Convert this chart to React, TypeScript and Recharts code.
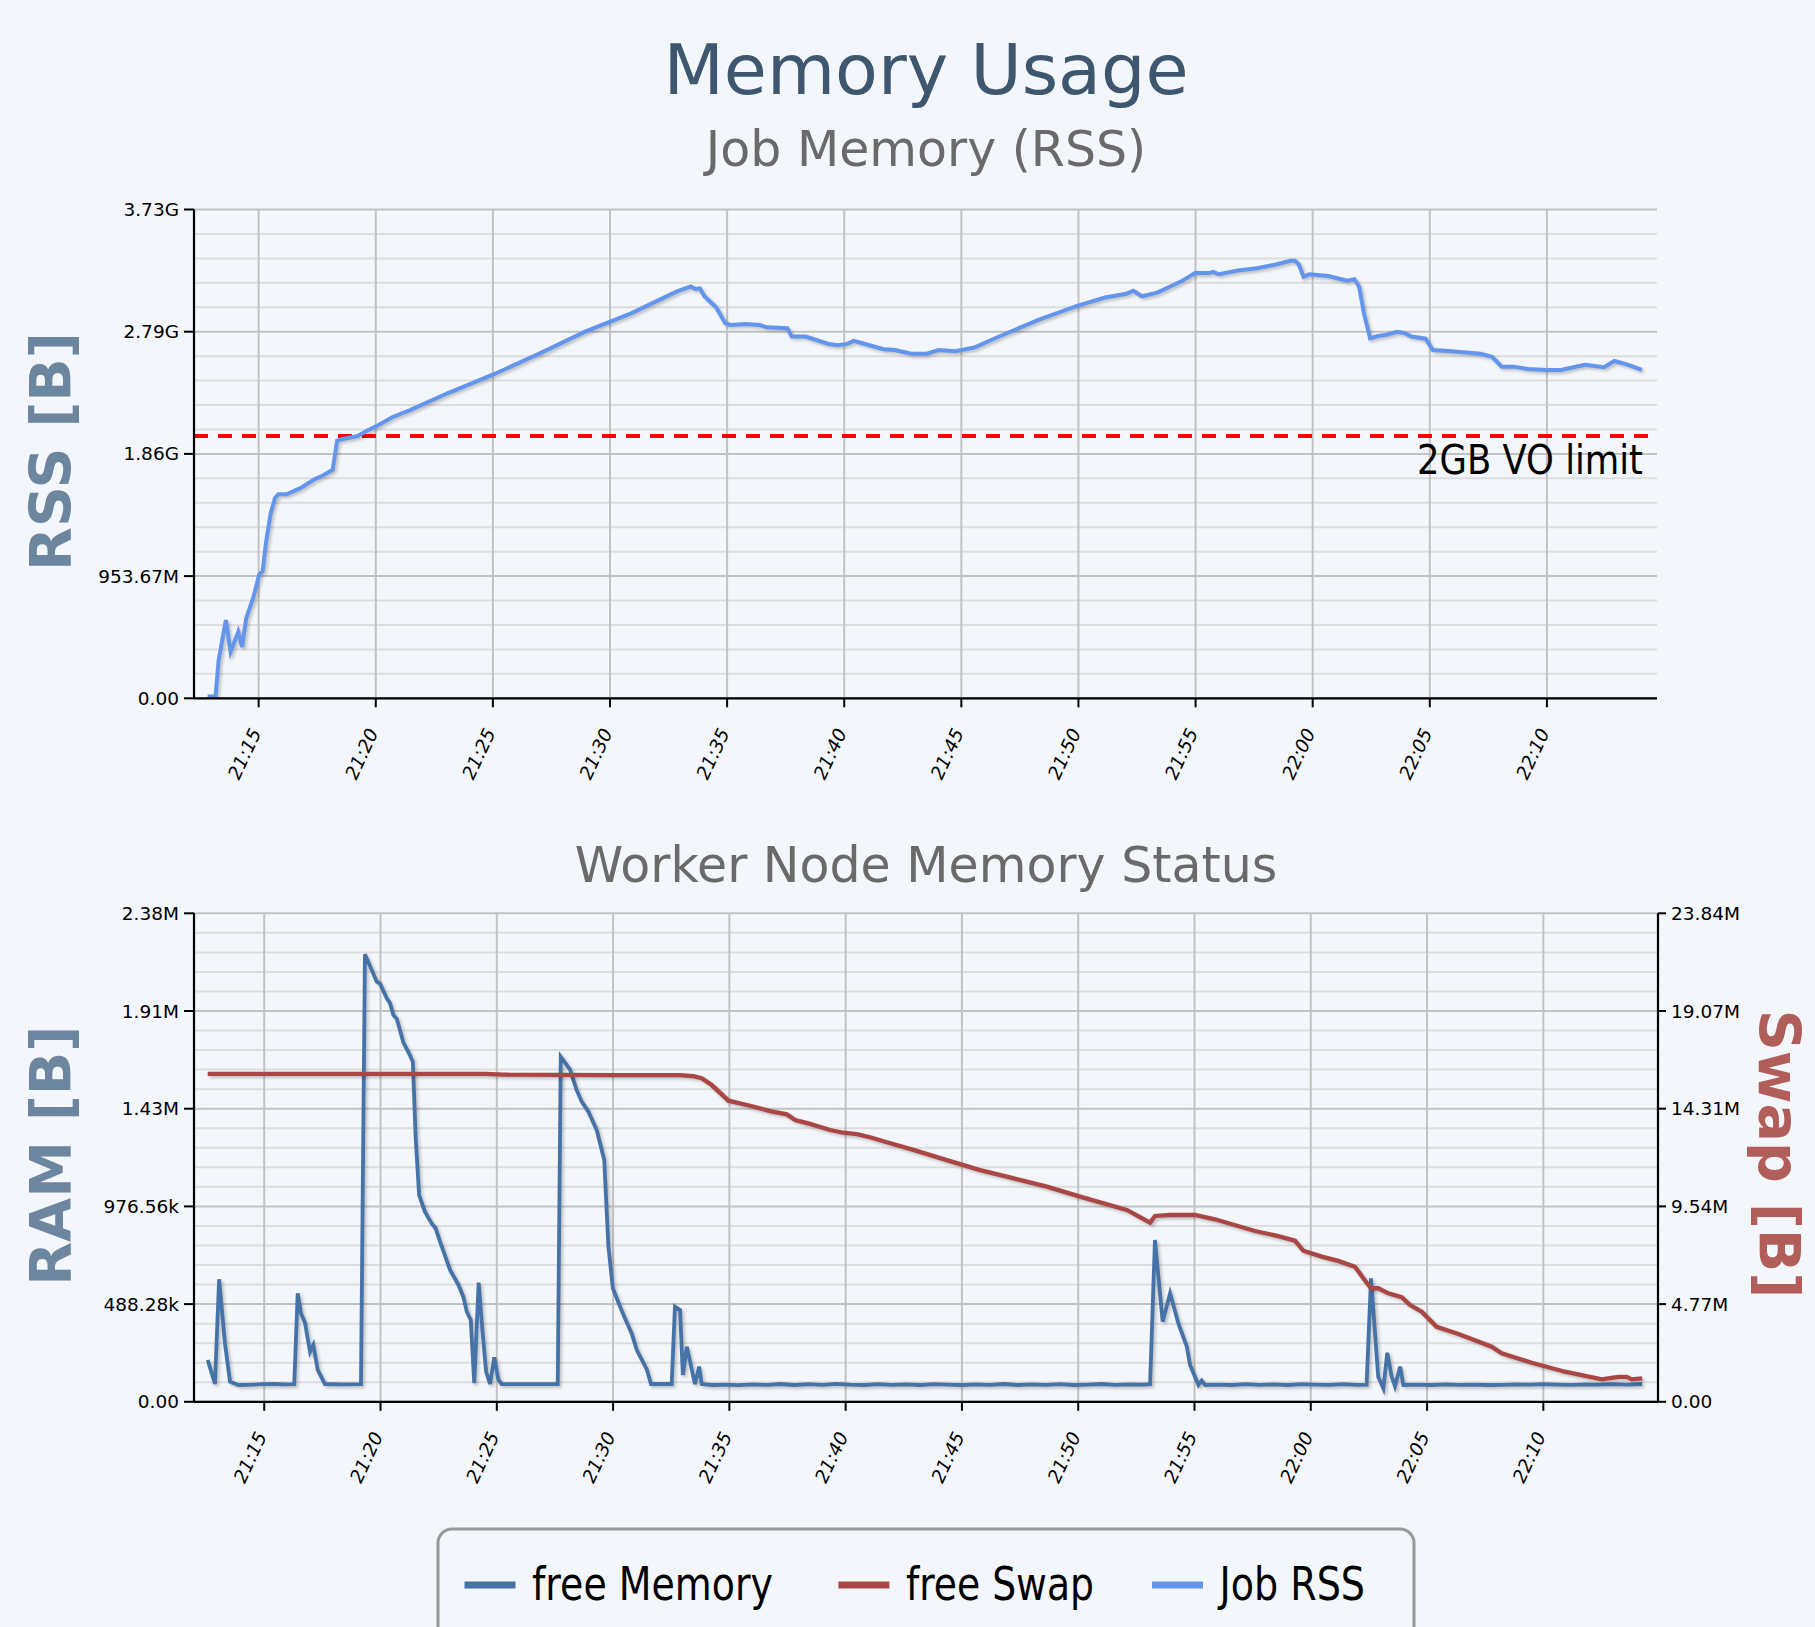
import React from "react";
import {
  LineChart,
  Line,
  XAxis,
  YAxis,
  CartesianGrid,
  ReferenceLine,
} from "recharts";

// time axis: minutes after 21:00
const timeTicks = [15, 20, 25, 30, 35, 40, 45, 50, 55, 60, 65, 70];

// Job RSS, in units of 1e9 bytes
const rssMinutes = [
  12.82, 13.16, 13.29, 13.6, 13.8, 14.13, 14.29, 14.47, 14.78, 15.02, 15.17, 15.31,
  15.51, 15.7, 15.84, 16.19, 16.78, 17.37, 17.76, 18.16, 18.35, 18.54, 19.23, 19.62,
  20.12, 20.7, 21.49, 23.06, 25.02, 26.98, 28.94, 30.9, 31.88, 32.86, 33.45, 33.64,
  33.84, 34.03, 34.53, 34.92, 35.12, 35.8, 36.39, 36.68, 37.57, 37.76, 38.35, 39.33,
  39.72, 40.12, 40.41, 40.7, 41.68, 42.17, 42.86, 43.52, 44.03, 44.74, 45.55, 46.66,
  48.29, 49.91, 51.13, 52.04, 52.34, 52.71, 53.36, 54.37, 54.98, 55.59, 55.75, 55.99,
  56.81, 57.62, 58.43, 59.04, 59.24, 59.41, 59.61, 59.85, 60.66, 61.47, 61.78, 61.98,
  62.19, 62.45, 62.79, 63.1, 63.6, 63.91, 64.21, 64.82, 65.13, 65.94, 67.16, 67.66,
  68.07, 68.57, 69.19, 70.0, 70.6, 71.62, 72.43, 72.88, 73.44, 74.05,
];
const rssGB = [
  0.015, 0.015, 0.31, 0.64, 0.38, 0.545, 0.42, 0.655, 0.83, 1.01, 1.04, 1.27,
  1.51, 1.64, 1.67, 1.67, 1.72, 1.79, 1.825, 1.87, 2.108, 2.12, 2.146, 2.19,
  2.236, 2.3, 2.36, 2.496, 2.65, 2.82, 3.0, 3.15, 3.24, 3.33, 3.37, 3.35,
  3.355, 3.29, 3.2, 3.07, 3.055, 3.063, 3.055, 3.036, 3.028, 2.96, 2.96, 2.9,
  2.89, 2.9, 2.925, 2.91, 2.856, 2.85, 2.82, 2.82, 2.85, 2.84, 2.87, 2.965,
  3.096, 3.21, 3.28, 3.31, 3.335, 3.29, 3.32, 3.41, 3.48, 3.48, 3.49, 3.47,
  3.5, 3.52, 3.55, 3.58, 3.58, 3.55, 3.45, 3.47, 3.456, 3.417, 3.43, 3.37,
  3.15, 2.946, 2.965, 2.973, 3.0, 2.99, 2.96, 2.943, 2.85, 2.84, 2.82, 2.795,
  2.714, 2.714, 2.695, 2.687, 2.687, 2.73, 2.71, 2.76, 2.73, 2.687,
];

// free memory on the worker node, in units of 1e6 bytes
const freeMemMinutes = [
  12.57, 12.88, 13.06, 13.31, 13.53, 13.89, 14.5, 14.89, 15.46, 15.9, 16.29, 16.44,
  16.58, 16.75, 16.97, 17.11, 17.3, 17.61, 18.33, 19.16, 19.33, 19.84, 19.98, 20.27,
  20.41, 20.55, 20.7, 20.98, 21.2, 21.39, 21.51, 21.66, 21.91, 22.2, 22.37, 22.56,
  22.99, 23.35, 23.56, 23.71, 23.88, 24.03, 24.22, 24.38, 24.54, 24.71, 24.89, 25.07,
  25.21, 26.36, 27.62, 27.75, 28.15, 28.43, 28.65, 28.94, 29.3, 29.62, 29.8, 29.99,
  30.3, 30.51, 30.8, 31.02, 31.45, 31.63, 32.52, 32.66, 32.88, 33.0, 33.17, 33.52,
  33.7, 33.81, 34.3, 34.9, 35.4, 36.0, 36.6, 37.2, 37.8, 38.4, 39.0, 39.6,
  40.2, 40.8, 41.4, 42.0, 42.6, 43.2, 43.8, 44.4, 45.0, 45.6, 46.2, 46.8,
  47.4, 48.0, 48.6, 49.2, 49.8, 50.4, 51.0, 51.6, 52.2, 52.8, 53.09, 53.3,
  53.63, 53.95, 54.31, 54.67, 54.81, 55.17, 55.31, 55.46, 56.0, 56.6, 57.2, 57.8,
  58.4, 59.0, 59.6, 60.2, 60.8, 61.4, 62.0, 62.4, 62.59, 62.9, 63.12, 63.29,
  63.48, 63.62, 63.84, 63.98, 64.6, 65.2, 65.8, 66.4, 67.0, 67.6, 68.2, 68.8,
  69.4, 70.0, 70.6, 71.2, 71.8, 72.4, 73.0, 73.6, 74.25,
];
const freeMemMB = [
  0.214, 0.091, 0.627, 0.3, 0.103, 0.086, 0.088, 0.09, 0.091, 0.089, 0.09, 0.555,
  0.453, 0.405, 0.256, 0.291, 0.163, 0.091, 0.089, 0.09, 2.29, 2.15, 2.14, 2.065,
  2.04, 1.98, 1.96, 1.84, 1.79, 1.74, 1.357, 1.058, 0.973, 0.913, 0.888, 0.82,
  0.675, 0.598, 0.538, 0.461, 0.419, 0.095, 0.61, 0.367, 0.154, 0.091, 0.228, 0.112,
  0.091, 0.09, 0.091, 1.766, 1.7, 1.596, 1.536, 1.485, 1.39, 1.237, 0.794, 0.581,
  0.487, 0.427, 0.35, 0.265, 0.166, 0.091, 0.091, 0.487, 0.47, 0.137, 0.282, 0.091,
  0.18, 0.091, 0.086, 0.088, 0.085, 0.089, 0.087, 0.091, 0.086, 0.09, 0.087, 0.092,
  0.088, 0.086, 0.09, 0.087, 0.089, 0.086, 0.09, 0.088, 0.086, 0.089, 0.087, 0.091,
  0.086, 0.089, 0.087, 0.09, 0.086, 0.088, 0.091, 0.087, 0.089, 0.088, 0.09, 0.828,
  0.41, 0.555, 0.4, 0.282, 0.188, 0.086, 0.108, 0.086, 0.088, 0.086, 0.09, 0.087,
  0.089, 0.086, 0.09, 0.088, 0.087, 0.09, 0.087, 0.088, 0.632, 0.128, 0.069, 0.251,
  0.128, 0.08, 0.18, 0.086, 0.088, 0.086, 0.089, 0.087, 0.088, 0.086, 0.087, 0.089,
  0.088, 0.09, 0.088, 0.087, 0.089, 0.088, 0.09, 0.088, 0.091,
];

// free swap on the worker node, in units of 1e6 bytes
const freeSwapMinutes = [
  12.57, 19.0, 24.5, 25.3, 30.0, 32.88, 33.45, 33.81, 34.24, 34.96, 35.32, 35.89,
  36.75, 37.47, 37.83, 38.47, 39.33, 39.9, 40.48, 41.05, 41.77, 42.91, 44.35, 45.78,
  46.93, 48.65, 50.08, 52.09, 53.09, 53.3, 53.95, 55.02, 55.88, 57.6, 58.6, 59.32,
  59.68, 60.47, 61.18, 61.9, 62.26, 62.59, 62.9, 63.33, 63.91, 64.27, 64.77, 65.41,
  66.35, 67.78, 68.21, 69.5, 70.93, 72.51, 73.22, 73.58, 73.8, 74.25,
];
const freeSwapMB = [
  16.78, 16.78, 16.78, 16.74, 16.72, 16.72, 16.67, 16.56, 16.21, 15.41, 15.31, 15.15,
  14.88, 14.71, 14.42, 14.22, 13.91, 13.77, 13.7, 13.54, 13.28, 12.89, 12.37, 11.86,
  11.52, 11.01, 10.5, 9.82, 9.17, 9.51, 9.56, 9.56, 9.34, 8.74, 8.48, 8.25,
  7.73, 7.43, 7.21, 6.91, 6.32, 5.81, 5.81, 5.55, 5.35, 4.95, 4.61, 3.84,
  3.47, 2.82, 2.48, 2.0, 1.54, 1.15, 1.28, 1.28, 1.15, 1.2,
];

const rssTicks = [0, 1e9, 2e9, 3e9, 4e9];
const rssMinor = [
  0.2e9, 0.4e9, 0.6e9, 0.8e9, 1.2e9, 1.4e9, 1.6e9, 1.8e9,
  2.2e9, 2.4e9, 2.6e9, 2.8e9, 3.2e9, 3.4e9, 3.6e9, 3.8e9,
];
const ramTicks = [0, 5e5, 1e6, 1.5e6, 2e6, 2.5e6];
const ramMinor = [
  1e5, 2e5, 3e5, 4e5, 6e5, 7e5, 8e5, 9e5, 1.1e6, 1.2e6, 1.3e6, 1.4e6,
  1.6e6, 1.7e6, 1.8e6, 1.9e6, 2.1e6, 2.2e6, 2.3e6, 2.4e6,
];
const swapTicks = [0, 5e6, 1e7, 1.5e7, 2e7, 2.5e7];
const voLimit = 2 * 1024 * 1024 * 1024;

const legendItems = [
  { name: "free Memory", color: "#4572A7" },
  { name: "free Swap", color: "#AA4643" },
  { name: "Job RSS", color: "#6495ED" },
];

const rssData = rssMinutes.map((t, i) => ({ t, v: rssGB[i] * 1e9 }));
const freeMemData = freeMemMinutes.map((t, i) => ({ t, v: freeMemMB[i] * 1e6 }));
const freeSwapData = freeSwapMinutes.map((t, i) => ({ t, v: freeSwapMB[i] * 1e6 }));

const FONT = "DejaVu Sans, Verdana, sans-serif";
const BG = "#F3F6FA";

const fmtBytes = (v: number) => {
  if (v === 0) return "0.00";
  if (v >= 1024 ** 3) return (v / 1024 ** 3).toFixed(2) + "G";
  if (v >= 1024 ** 2) return (v / 1024 ** 2).toFixed(2) + "M";
  if (v >= 1024) return (v / 1024).toFixed(2) + "k";
  return v.toFixed(2);
};

const fmtTime = (m: number) => {
  const h = 21 + Math.floor(m / 60);
  return `${h}:${String(m % 60).padStart(2, "0")}`;
};

const TimeTick = (props: any) => {
  const { x, y, payload } = props;
  const ax = x + 3;
  const ay = y + 25;
  return (
    <text
      x={ax}
      y={ay}
      transform={`rotate(-65 ${ax} ${ay})`}
      textAnchor="end"
      fontSize={18.5}
      fontStyle="italic"
      fontFamily={FONT}
      fill="#000"
    >
      {fmtTime(payload.value)}
    </text>
  );
};

const LimitLabel = (props: any) => {
  const vb = props.viewBox || {};
  return (
    <text
      x={vb.x + vb.width - 14}
      y={vb.y + 38}
      textAnchor="end"
      fontSize={41}
      fontFamily={FONT}
      fill="#000"
      textLength={226}
      lengthAdjust="spacingAndGlyphs"
    >
      2GB VO limit
    </text>
  );
};

const yTick = { fontSize: 18.5, fill: "#000", fontFamily: FONT };
const axisLine = { stroke: "#000", strokeWidth: 2.2 };
const tickLine = { stroke: "#000", strokeWidth: 2 };

const Overlay = () => (
  <svg
    width={1815}
    height={1627}
    style={{ position: "absolute", left: 0, top: 0, pointerEvents: "none" }}
    fontFamily={FONT}
  >
    <text x={926} y={94} textAnchor="middle" fontSize={70} fill="#3E576F">
      Memory Usage
    </text>
    <text x={926} y={166} textAnchor="middle" fontSize={49} fill="#6a6a6a">
      Job Memory (RSS)
    </text>
    <text x={926} y={882} textAnchor="middle" fontSize={49} fill="#6a6a6a">
      Worker Node Memory Status
    </text>
    <text
      transform="translate(71.4 451.6) rotate(-90)"
      textAnchor="middle"
      fontSize={57}
      fontWeight="bold"
      fill="#6D869F"
    >
      RSS [B]
    </text>
    <text
      transform="translate(71.4 1155.8) rotate(-90)"
      textAnchor="middle"
      fontSize={57}
      fontWeight="bold"
      fill="#6D869F"
    >
      RAM [B]
    </text>
    <text
      transform="translate(1759 1154) rotate(90)"
      textAnchor="middle"
      fontSize={57}
      fontWeight="bold"
      fill="#b15d5a"
    >
      Swap [B]
    </text>

    {/* legend */}
    <rect x={438} y={1529} width={976} height={160} rx={14} fill={BG} stroke="#999" strokeWidth={3} />
    {legendItems.map((it, i) => {
      const sx = [464.5, 838.4, 1152][i];
      const tw = [241, 188, 145.5][i];
      return (
        <g key={it.name}>
          <line x1={sx} x2={sx + 51} y1={1585} y2={1585} stroke={it.color} strokeWidth={7} />
          <text
            x={sx + 67.5}
            y={1600}
            fontSize={46}
            fill="#000"
            textLength={tw}
            lengthAdjust="spacingAndGlyphs"
          >
            {it.name}
          </text>
        </g>
      );
    })}
  </svg>
);

export default function App() {
  return (
    <div
      style={{
        position: "absolute",
        left: 0,
        top: 0,
        width: 1815,
        height: 1627,
        overflow: "hidden",
        background: BG,
        fontFamily: FONT,
      }}
    >
      <style>{`.recharts-line-curve { filter: drop-shadow(2px 2px 1.5px rgba(0,0,0,0.22)); }`}</style>
      <div style={{ position: "absolute", left: 0, top: 0 }}>
        <LineChart
          width={1815}
          height={800}
          margin={{ top: 209.5, right: 158, bottom: 41.7, left: 0 }}
        >
          <CartesianGrid
            horizontalValues={rssMinor}
            vertical={false}
            stroke="#dddddd"
            strokeWidth={2}
          />
          <CartesianGrid
            horizontalValues={rssTicks}
            verticalValues={timeTicks}
            stroke="#c2c2c2"
            strokeWidth={2}
          />
          <XAxis
            type="number"
            dataKey="t"
            domain={[12.24, 74.7]}
            allowDataOverflow
            ticks={timeTicks}
            interval={0}
            height={60}
            tick={<TimeTick />}
            tickSize={9}
            tickMargin={0}
            axisLine={axisLine}
            tickLine={tickLine}
          />
          <YAxis
            type="number"
            domain={[0, 4e9]}
            allowDataOverflow
            ticks={rssTicks}
            interval={0}
            width={194}
            tickFormatter={fmtBytes}
            tick={yTick}
            tickSize={10}
            tickMargin={5}
            axisLine={axisLine}
            tickLine={tickLine}
          />
          <ReferenceLine
            y={voLimit}
            stroke="#ff0000"
            strokeWidth={4}
            strokeDasharray="14 10"
            label={<LimitLabel />}
          />
          <Line
            data={rssData}
            dataKey="v"
            name="Job RSS"
            type="linear"
            dot={false}
            activeDot={false}
            stroke="#6495ED"
            strokeWidth={4}
            isAnimationActive={false}
          />
        </LineChart>
      </div>

      <div style={{ position: "absolute", left: 0, top: 800 }}>
        <LineChart
          width={1815}
          height={827}
          margin={{ top: 113.3, right: 0, bottom: 165.2, left: 0 }}
        >
          <CartesianGrid
            yAxisId="ram"
            horizontalValues={ramMinor}
            vertical={false}
            stroke="#dddddd"
            strokeWidth={2}
          />
          <CartesianGrid
            yAxisId="ram"
            horizontalValues={ramTicks}
            verticalValues={timeTicks}
            stroke="#c2c2c2"
            strokeWidth={2}
          />
          <XAxis
            type="number"
            dataKey="t"
            domain={[11.98, 74.93]}
            allowDataOverflow
            ticks={timeTicks}
            interval={0}
            height={60}
            tick={<TimeTick />}
            tickSize={9}
            tickMargin={0}
            axisLine={axisLine}
            tickLine={tickLine}
          />
          <YAxis
            yAxisId="ram"
            orientation="left"
            type="number"
            domain={[0, 2.5e6]}
            allowDataOverflow
            ticks={ramTicks}
            interval={0}
            width={194}
            tickFormatter={fmtBytes}
            tick={yTick}
            tickSize={10}
            tickMargin={5}
            axisLine={axisLine}
            tickLine={tickLine}
          />
          <YAxis
            yAxisId="swap"
            orientation="right"
            type="number"
            domain={[0, 2.5e7]}
            allowDataOverflow
            ticks={swapTicks}
            interval={0}
            width={157}
            tickFormatter={fmtBytes}
            tick={{ ...yTick, textAnchor: "start" }}
            tickSize={8}
            tickMargin={5}
            axisLine={axisLine}
            tickLine={tickLine}
          />
          <Line
            yAxisId="ram"
            data={freeMemData}
            dataKey="v"
            name="free Memory"
            type="linear"
            dot={false}
            activeDot={false}
            stroke="#4572A7"
            strokeWidth={3.8}
            isAnimationActive={false}
          />
          <Line
            yAxisId="swap"
            data={freeSwapData}
            dataKey="v"
            name="free Swap"
            type="linear"
            dot={false}
            activeDot={false}
            stroke="#AA4643"
            strokeWidth={4.3}
            isAnimationActive={false}
          />
        </LineChart>
      </div>

      <Overlay />
    </div>
  );
}
